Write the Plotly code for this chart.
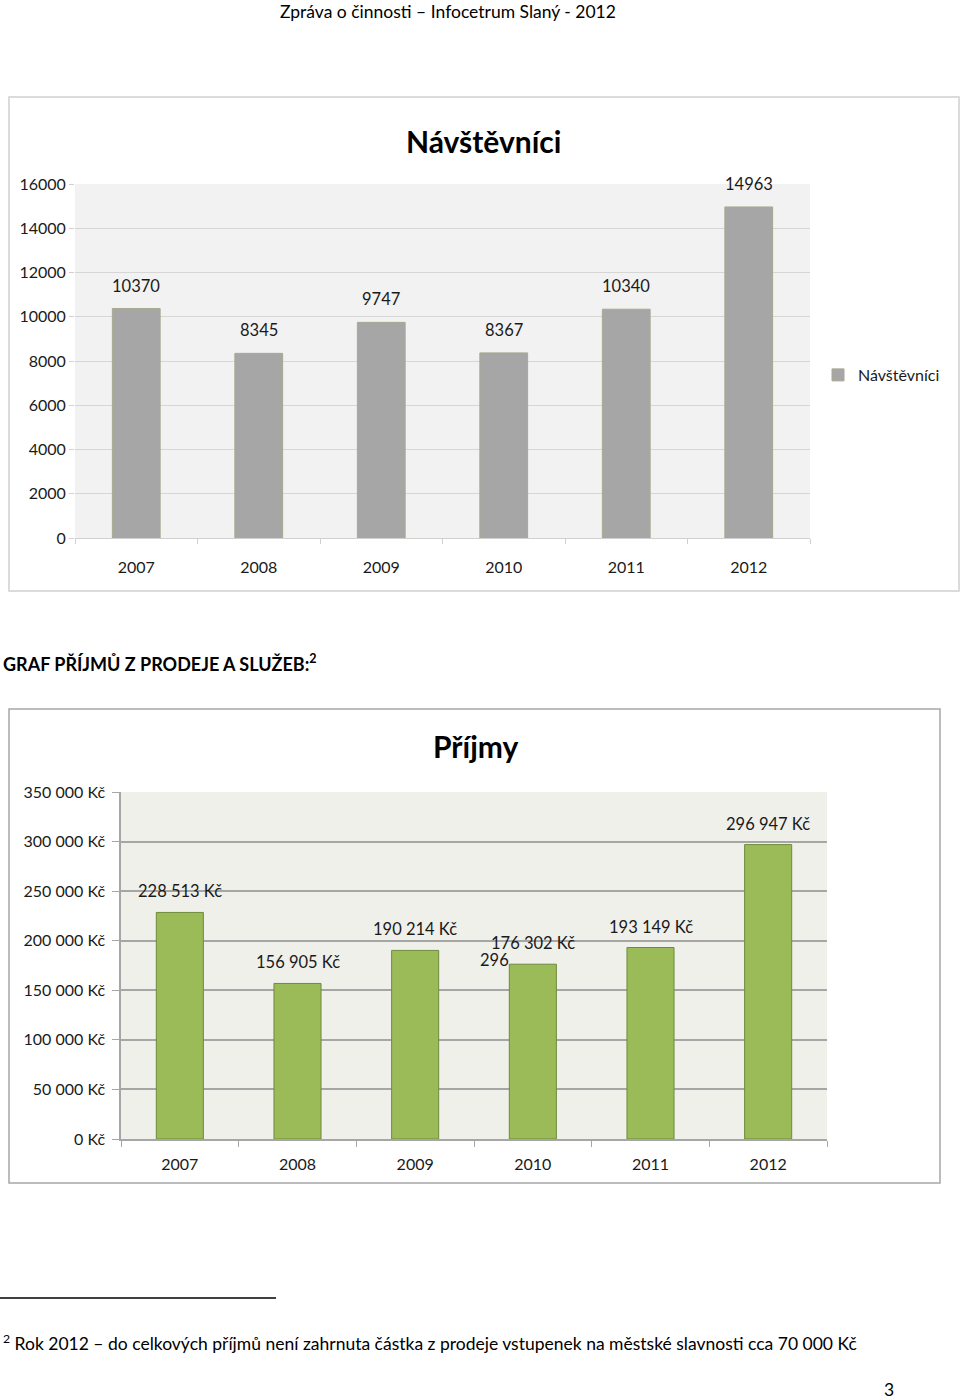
import plotly.graph_objects as go

W, H = 960, 1400

years = ["2007", "2008", "2009", "2010", "2011", "2012"]
visitors = [10370, 8345, 9747, 8367, 10340, 14963]
visitor_ticks = [0, 2000, 4000, 6000, 8000, 10000, 12000, 14000, 16000]

income = [228513, 156905, 190214, 176302, 193149, 296947]
income_labels = ["228 513 Kč", "156 905 Kč", "190 214 Kč", "176 302 Kč", "193 149 Kč", "296 947 Kč"]
income_ticks = [0, 50000, 100000, 150000, 200000, 250000, 300000, 350000]
income_ticktext = ["0 Kč", "50 000 Kč", "100 000 Kč", "150 000 Kč", "200 000 Kč",
                   "250 000 Kč", "300 000 Kč", "350 000 Kč"]

FONT = "Lato"
TXT = "#1a1a1a"


def px_x(x):
    return x / W


def px_y(y):
    return 1 - y / H


fig = go.Figure()

fig.add_trace(go.Bar(
    x=years, y=visitors, name="Návštěvníci",
    marker=dict(color="#a6a6a6", line=dict(color="#a8a890", width=1)),
    width=0.39, xaxis="x", yaxis="y", showlegend=True,
))
fig.add_trace(go.Bar(
    x=years, y=income, name="Příjmy",
    marker=dict(color="#9bbb59", line=dict(color="#6f8a3c", width=1)),
    width=0.40, xaxis="x2", yaxis="y2", showlegend=False,
))

annotations = []
for i, v in enumerate(visitors):
    annotations.append(dict(x=i, y=v, xref="x", yref="y", text=str(v), showarrow=False,
                            xanchor="center", yanchor="middle",
                            yshift=23, font=dict(family=FONT, size=16.5, color=TXT)))
for i, (v, lab) in enumerate(zip(income, income_labels)):
    annotations.append(dict(x=i, y=v, xref="x2", yref="y2", text=lab, showarrow=False,
                            xanchor="center", yanchor="middle",
                            yshift=21, font=dict(family=FONT, size=16.5, color=TXT)))
# stray fragment visible in the source image
annotations.append(dict(x=3, y=income[3], xref="x2", yref="y2", text="296", showarrow=False,
                        xanchor="center", yanchor="middle",
                        xshift=-38, yshift=4, font=dict(family=FONT, size=16.5, color=TXT)))


def page_text(x, y, text, size, xanchor="center"):
    annotations.append(dict(x=px_x(x), y=px_y(y), xref="paper", yref="paper", text=text,
                            xanchor=xanchor, yanchor="middle", showarrow=False,
                            font=dict(family=FONT, size=size, color="#000")))


page_text(483, 141, "<b>Návštěvníci</b>", 30)
page_text(475, 746, "<b>Příjmy</b>", 30)
page_text(448, 11, "Zpráva o činnosti – Infocetrum Slaný - 2012", 17.5)
page_text(1, 663, "<b>GRAF PŘÍJMŮ Z PRODEJE A SLUŽEB:<sup>2</sup></b>", 18, "left")
page_text(1, 1342, "<sup>2</sup> Rok 2012 – do celkových příjmů není zahrnuta částka z prodeje vstupenek na městské slavnosti cca 70 000 Kč", 17.5, "left")
page_text(889, 1389, "3", 17.5)

shapes = [
    dict(type="rect", xref="paper", yref="paper", x0=px_x(9), x1=px_x(959), y0=px_y(591), y1=px_y(97),
         line=dict(color="#d0d0d0", width=1.5), layer="below"),
    dict(type="rect", xref="paper", yref="paper", x0=px_x(9), x1=px_x(940), y0=px_y(1183), y1=px_y(709),
         line=dict(color="#a6a6a6", width=1.5), layer="below"),
    dict(type="line", xref="paper", yref="paper", x0=px_x(0), x1=px_x(276), y0=px_y(1298), y1=px_y(1298),
         line=dict(color="#000", width=1.5)),
    # second plot area background (layout has a single plot_bgcolor)
    dict(type="rect", xref="x2 domain", yref="y2 domain", x0=0, x1=1, y0=0, y1=1,
         fillcolor="#eff0ea", line=dict(width=0), layer="below"),
]

fig.update_layout(
    width=W, height=H,
    margin=dict(l=0, r=0, t=0, b=0, pad=0, autoexpand=False),
    paper_bgcolor="white",
    plot_bgcolor="#f2f2f2",
    barmode="group",
    font=dict(family=FONT, size=16, color=TXT),
    annotations=annotations,
    shapes=shapes,
    legend=dict(x=px_x(818), y=px_y(375), xanchor="left", yanchor="middle",
                font=dict(family=FONT, size=16, color=TXT), bgcolor="rgba(0,0,0,0)",
                itemwidth=30, tracegroupgap=0),
    xaxis=dict(domain=[px_x(75), px_x(810)], anchor="y", type="category", range=[-0.5, 5.5],
               tickson="boundaries", ticks="outside", ticklen=5, tickcolor="#d0d0d0",
               showline=True, linecolor="#d0d0d0", linewidth=1, tickangle=0, automargin=False,
               ticklabelstandoff=15,
               tickfont=dict(family=FONT, size=16, color=TXT), showgrid=False),
    yaxis=dict(domain=[px_y(538), px_y(184)], anchor="x", range=[0, 16000],
               tickvals=visitor_ticks, ticktext=[str(t) for t in visitor_ticks],
               ticks="outside", ticklen=5, tickcolor="#d0d0d0", automargin=False,
               showgrid=True, gridcolor="#d6d6d6", gridwidth=1, zeroline=False,
               showline=False, ticklabelstandoff=0,
               tickfont=dict(family=FONT, size=16, color=TXT)),
    xaxis2=dict(domain=[px_x(121), px_x(827)], anchor="y2", type="category", range=[-0.5, 5.5],
                tickson="boundaries", ticks="outside", ticklen=6, tickcolor="#a6a6a6",
                showline=True, linecolor="#a6a6a6", linewidth=1.5, tickangle=0, automargin=False,
                ticklabelstandoff=10,
                tickfont=dict(family=FONT, size=16, color=TXT), showgrid=False),
    yaxis2=dict(domain=[px_y(1139), px_y(792)], anchor="x2", range=[0, 350000],
                tickvals=income_ticks, ticktext=income_ticktext, automargin=False,
                ticks="outside", ticklen=7, tickcolor="#a6a6a6",
                showgrid=True, gridcolor="#a6a6a6", gridwidth=1.5, zeroline=False,
                showline=True, linecolor="#a6a6a6", linewidth=1.5, ticklabelstandoff=4,
                tickfont=dict(family=FONT, size=16, color=TXT)),
)

fig.write_html("out.html", post_script="document.body.style.margin='0';")
